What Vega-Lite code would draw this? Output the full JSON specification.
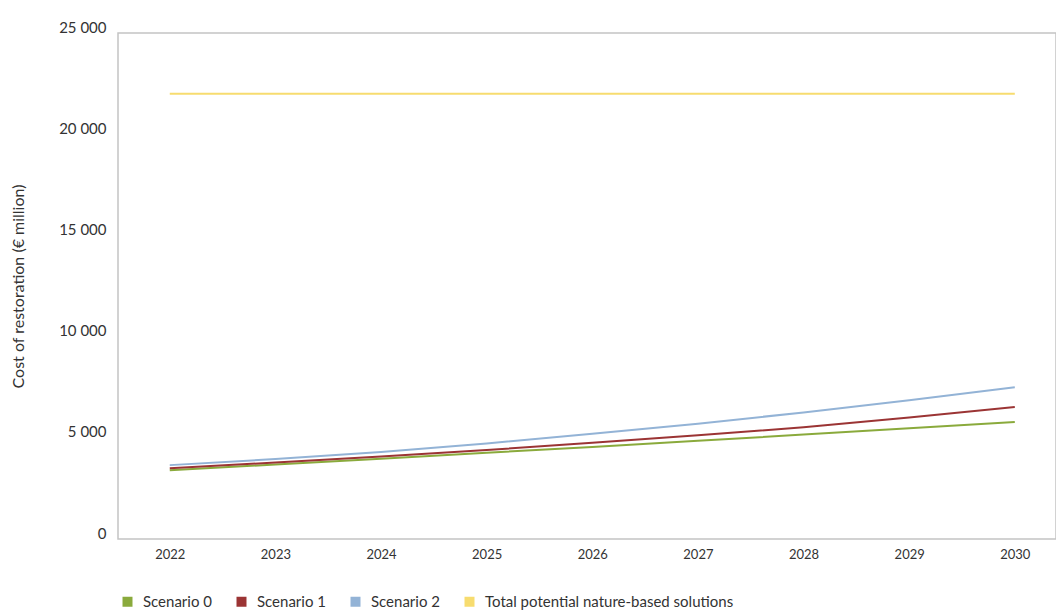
{
  "$schema": "https://vega.github.io/schema/vega-lite/v6.json",
  "width": 938,
  "height": 506,
  "autosize": {"type": "none"},
  "padding": {"left": 118, "top": 33, "right": 0, "bottom": 77},
  "background": "white",
  "config": {
    "font": "Lato",
    "view": {"stroke": "#c4c4c4", "strokeWidth": 1.5},
    "axis": {"labelFont": "Lato", "titleFont": "Lato", "labelFontSize": 14, "labelColor": "#333", "titleColor": "#333", "domain": false, "ticks": false, "grid": false}
  },
  "data": {
    "values": [
      {"year": 2022, "series": "Scenario 0", "cost": 3400},
      {"year": 2023, "series": "Scenario 0", "cost": 3680},
      {"year": 2024, "series": "Scenario 0", "cost": 3970},
      {"year": 2025, "series": "Scenario 0", "cost": 4260},
      {"year": 2026, "series": "Scenario 0", "cost": 4550},
      {"year": 2027, "series": "Scenario 0", "cost": 4850},
      {"year": 2028, "series": "Scenario 0", "cost": 5160},
      {"year": 2029, "series": "Scenario 0", "cost": 5470},
      {"year": 2030, "series": "Scenario 0", "cost": 5780},
      {"year": 2022, "series": "Scenario 1", "cost": 3500},
      {"year": 2023, "series": "Scenario 1", "cost": 3780},
      {"year": 2024, "series": "Scenario 1", "cost": 4080},
      {"year": 2025, "series": "Scenario 1", "cost": 4400},
      {"year": 2026, "series": "Scenario 1", "cost": 4750},
      {"year": 2027, "series": "Scenario 1", "cost": 5120},
      {"year": 2028, "series": "Scenario 1", "cost": 5520},
      {"year": 2029, "series": "Scenario 1", "cost": 6000},
      {"year": 2030, "series": "Scenario 1", "cost": 6520},
      {"year": 2022, "series": "Scenario 2", "cost": 3650},
      {"year": 2023, "series": "Scenario 2", "cost": 3950},
      {"year": 2024, "series": "Scenario 2", "cost": 4300},
      {"year": 2025, "series": "Scenario 2", "cost": 4720},
      {"year": 2026, "series": "Scenario 2", "cost": 5200},
      {"year": 2027, "series": "Scenario 2", "cost": 5700},
      {"year": 2028, "series": "Scenario 2", "cost": 6250},
      {"year": 2029, "series": "Scenario 2", "cost": 6850},
      {"year": 2030, "series": "Scenario 2", "cost": 7500},
      {"year": 2022, "series": "Total potential nature-based solutions", "cost": 22000},
      {"year": 2030, "series": "Total potential nature-based solutions", "cost": 22000}
    ]
  },
  "mark": {"type": "line", "strokeWidth": 2},
  "encoding": {
    "x": {
      "field": "year", "type": "quantitative",
      "scale": {"domain": [2021.51, 2030.39], "nice": false, "zero": false},
      "axis": {"values": [2022, 2023, 2024, 2025, 2026, 2027, 2028, 2029, 2030], "format": "d", "title": null, "labelPadding": 9, "labelFontSize": 13}
    },
    "y": {
      "field": "cost", "type": "quantitative",
      "scale": {"domain": [0, 25000], "nice": false},
      "axis": {
        "values": [0, 5000, 10000, 15000, 20000, 25000],
        "labelExpr": "replace(format(datum.value, ','), ',', ' ')",
        "labelPadding": 12,
        "labelOffset": -6,
        "labelFontSize": 15,
        "title": "Cost of restoration (€ million)",
        "titleFontWeight": "normal",
        "titleFontSize": 16,
        "titleX": -92,
        "titleY": 253
      }
    },
    "color": {
      "field": "series", "type": "nominal",
      "scale": {
        "domain": ["Scenario 0", "Scenario 1", "Scenario 2", "Total potential nature-based solutions"],
        "range": ["#8aaa3c", "#9b3434", "#93b3d6", "#f7dc6f"]
      },
      "legend": {
        "title": null,
        "orient": "none",
        "direction": "horizontal",
        "legendX": 2,
        "legendY": 561,
        "padding": 0,
        "symbolType": "square",
        "symbolSize": 100,
        "symbolStrokeWidth": 0,
        "labelOffset": 8,
        "columnPadding": 22,
        "labelFontSize": 15,
        "labelLimit": 0,
        "labelColor": "#333",
        "labelFont": "Lato",
        "encode": {
          "symbols": {
            "update": {
              "fill": {"scale": "color", "field": "value"},
              "fillOpacity": {"value": 1}
            }
          }
        }
      }
    }
  }
}
